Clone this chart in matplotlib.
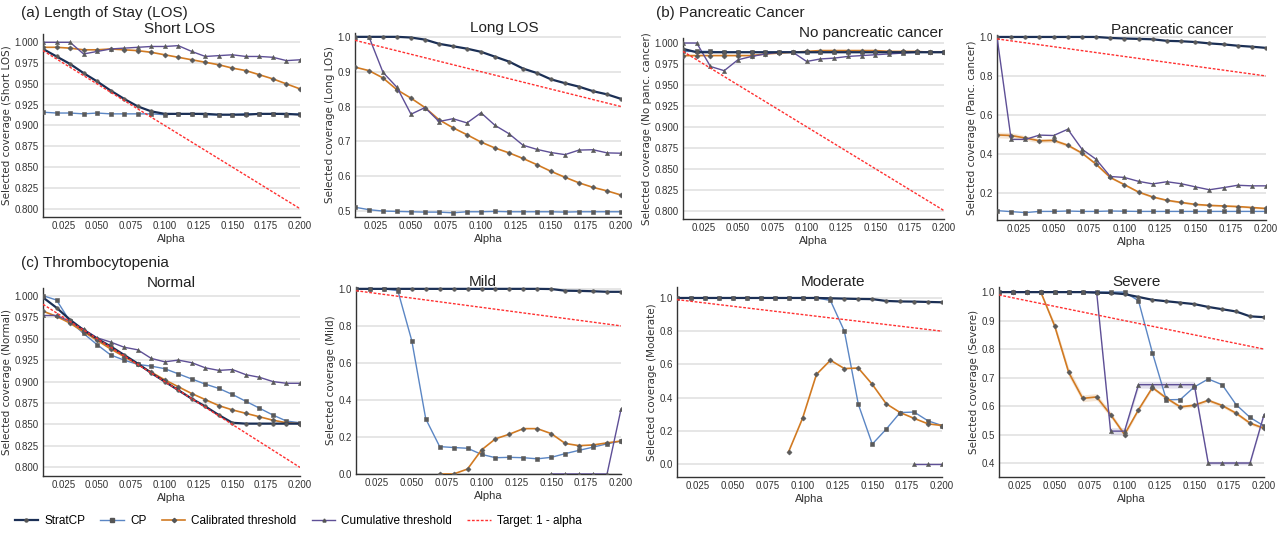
import numpy as np
import matplotlib
matplotlib.use("Agg")
import matplotlib.pyplot as plt
from matplotlib.lines import Line2D

nan = np.nan

alpha = [0.01, 0.02, 0.03, 0.04, 0.05, 0.06, 0.07, 0.08, 0.09, 0.10,
         0.11, 0.12, 0.13, 0.14, 0.15, 0.16, 0.17, 0.18, 0.19, 0.20]
target = [0.99, 0.98, 0.97, 0.96, 0.95, 0.94, 0.93, 0.92, 0.91, 0.90,
          0.89, 0.88, 0.87, 0.86, 0.85, 0.84, 0.83, 0.82, 0.81, 0.80]

methods = ["StratCP", "CP", "Calibrated threshold", "Cumulative threshold"]

# (a) Length of stay
short_strat = [0.992, 0.983, 0.974, 0.963, 0.953, 0.942, 0.932, 0.923, 0.917, 0.914,
               0.914, 0.914, 0.914, 0.913, 0.913, 0.913, 0.914, 0.914, 0.914, 0.913]
short_cp = [0.916, 0.915, 0.915, 0.914, 0.915, 0.914, 0.914, 0.914, 0.914, 0.913,
            0.914, 0.914, 0.913, 0.913, 0.913, 0.914, 0.914, 0.914, 0.913, 0.914]
short_cal = [0.994, 0.994, 0.993, 0.991, 0.991, 0.992, 0.991, 0.990, 0.988, 0.985,
             0.982, 0.979, 0.976, 0.973, 0.969, 0.966, 0.961, 0.956, 0.950, 0.944]
short_cum = [1.000, 1.000, 1.000, 0.986, 0.989, 0.992, 0.993, 0.994, 0.995, 0.995,
             0.996, 0.989, 0.983, 0.984, 0.985, 0.983, 0.983, 0.982, 0.978, 0.979]

long_strat = [1.000, 1.000, 1.000, 1.000, 0.998, 0.992, 0.980, 0.973, 0.966, 0.957,
              0.943, 0.929, 0.909, 0.896, 0.878, 0.867, 0.857, 0.844, 0.835, 0.822]
long_cp = [0.511, 0.504, 0.500, 0.499, 0.498, 0.497, 0.497, 0.495, 0.498, 0.498,
           0.499, 0.498, 0.498, 0.498, 0.498, 0.497, 0.498, 0.498, 0.498, 0.498]
long_cal = [0.913, 0.903, 0.882, 0.848, 0.824, 0.797, 0.762, 0.739, 0.719, 0.698,
            0.681, 0.667, 0.651, 0.633, 0.614, 0.597, 0.581, 0.568, 0.558, 0.546]
long_cum = [1.000, 1.000, 0.898, 0.855, 0.778, 0.797, 0.757, 0.765, 0.753, 0.782,
            0.746, 0.722, 0.689, 0.677, 0.668, 0.662, 0.675, 0.676, 0.667, 0.666]

# (b) Pancreatic cancer
nopanc_strat = [0.993, 0.989, 0.989, 0.989, 0.989, 0.989, 0.989, 0.989, 0.989, 0.989,
                0.989, 0.989, 0.989, 0.989, 0.989, 0.989, 0.989, 0.989, 0.989, 0.989]
nopanc_cp = [0.990, 0.990, 0.990, 0.989, 0.989, 0.989, 0.989, 0.989, 0.989, 0.989,
             0.989, 0.989, 0.989, 0.989, 0.989, 0.989, 0.989, 0.989, 0.989, 0.989]
nopanc_cal = [0.985, 0.985, 0.985, 0.985, 0.985, 0.985, 0.987, 0.988, 0.989, 0.990,
              0.991, 0.991, 0.991, 0.991, 0.991, 0.990, 0.990, 0.990, 0.989, 0.989]
nopanc_cum = [1.000, 1.000, 0.972, 0.967, 0.980, 0.984, 0.987, 0.989, 0.989, 0.978,
              0.981, 0.982, 0.984, 0.985, 0.986, 0.987, 0.988, 0.989, 0.989, 0.989]

panc_strat = [1.000, 1.000, 1.000, 1.000, 1.000, 1.000, 1.000, 1.000, 0.995, 0.992,
              0.990, 0.988, 0.980, 0.978, 0.974, 0.967, 0.962, 0.955, 0.950, 0.944]
panc_cp = [0.110, 0.105, 0.100, 0.106, 0.106, 0.108, 0.106, 0.106, 0.108, 0.107,
           0.106, 0.106, 0.106, 0.106, 0.106, 0.106, 0.106, 0.106, 0.106, 0.106]
panc_cal = [0.498, 0.495, 0.482, 0.468, 0.470, 0.445, 0.405, 0.348, 0.280, 0.243,
            0.205, 0.180, 0.163, 0.152, 0.142, 0.137, 0.134, 0.131, 0.126, 0.121]
panc_cum = [1.000, 0.475, 0.475, 0.497, 0.495, 0.527, 0.425, 0.373, 0.285, 0.280,
            0.260, 0.247, 0.258, 0.248, 0.232, 0.217, 0.228, 0.240, 0.237, 0.237]

# (c) Thrombocytopenia
normal_strat = [0.998, 0.986, 0.972, 0.960, 0.950, 0.941, 0.931, 0.921, 0.910, 0.900,
                0.890, 0.880, 0.871, 0.861, 0.852, 0.851, 0.851, 0.851, 0.851, 0.851]
normal_cp = [1.000, 0.995, 0.970, 0.956, 0.943, 0.931, 0.925, 0.920, 0.918, 0.915,
             0.909, 0.903, 0.897, 0.892, 0.885, 0.877, 0.869, 0.861, 0.854, 0.852]
normal_cal = [0.982, 0.976, 0.968, 0.958, 0.948, 0.938, 0.929, 0.920, 0.911, 0.902,
              0.894, 0.886, 0.879, 0.872, 0.867, 0.863, 0.859, 0.855, 0.852, 0.851]
normal_cum = [0.977, 0.977, 0.970, 0.961, 0.951, 0.946, 0.940, 0.937, 0.927, 0.923,
              0.925, 0.922, 0.916, 0.913, 0.914, 0.908, 0.905, 0.900, 0.898, 0.898]

mild_strat = [1.000, 1.000, 1.000, 1.000, 1.000, 1.000, 1.000, 1.000, 1.000, 1.000,
              1.000, 1.000, 1.000, 1.000, 0.999, 0.990, 0.989, 0.987, 0.984, 0.984]
mild_cp = [1.000, 1.000, 1.000, 0.990, 0.720, 0.298, 0.148, 0.143, 0.139, 0.106,
           0.088, 0.090, 0.088, 0.082, 0.090, 0.110, 0.128, 0.145, 0.163, 0.178]
mild_cal = [nan, nan, nan, nan, nan, nan, 0.000, 0.000, 0.027, 0.130,
            0.190, 0.215, 0.245, 0.245, 0.218, 0.165, 0.153, 0.157, 0.168, 0.178]
mild_cum = [nan, nan, nan, nan, nan, nan, nan, nan, nan, nan,
            nan, nan, nan, nan, 0.000, 0.000, 0.000, 0.000, 0.000, 0.350]

moderate_strat = [1.000, 1.000, 1.000, 1.000, 1.000, 1.000, 1.000, 1.000, 1.000, 1.000,
                  1.000, 0.998, 0.996, 0.994, 0.993, 0.982, 0.979, 0.978, 0.976, 0.974]
moderate_cp = [1.000, 1.000, 1.000, 1.000, 1.000, 1.000, 1.000, 1.000, 1.000, 1.000,
               1.000, 0.985, 0.800, 0.360, 0.120, 0.210, 0.310, 0.313, 0.260, 0.232]
moderate_cal = [nan, nan, nan, nan, nan, nan, nan, nan, 0.073, 0.275,
                0.540, 0.625, 0.575, 0.578, 0.480, 0.363, 0.310, 0.275, 0.242, 0.232]
moderate_cum = [nan, nan, nan, nan, nan, nan, nan, nan, nan, nan,
                nan, nan, nan, nan, nan, nan, nan, 0.000, 0.000, 0.000]

severe_strat = [1.000, 1.000, 1.000, 1.000, 1.000, 1.000, 1.000, 0.998, 0.997, 0.993,
                0.983, 0.973, 0.968, 0.963, 0.958, 0.948, 0.940, 0.932, 0.915, 0.912]
severe_cp = [1.000, 1.000, 1.000, 1.000, 1.000, 1.000, 1.000, 1.000, 1.000, 1.000,
             0.970, 0.787, 0.622, 0.623, 0.667, 0.695, 0.675, 0.605, 0.560, 0.530]
severe_cal = [1.000, 1.000, 1.000, 1.000, 0.880, 0.718, 0.627, 0.632, 0.570, 0.500,
              0.587, 0.665, 0.628, 0.597, 0.603, 0.620, 0.602, 0.575, 0.540, 0.522]
severe_cum = [1.000, 1.000, 1.000, 1.000, 1.000, 1.000, 1.000, 1.000, 0.512, 0.512,
              0.675, 0.675, 0.675, 0.675, 0.675, 0.400, 0.400, 0.400, 0.400, 0.570]

# half-widths of the visible shaded bands
panc_cal_band = [0.015, 0.015, 0.012, 0.010, 0.010, 0.008, 0.006, 0.006, 0.005, 0.005,
                 0.005, 0.005, 0.005, 0.005, 0.005, 0.005, 0.005, 0.005, 0.005, 0.005]
severe_cal_band = [0.0, 0.0, 0.0, 0.0, 0.012, 0.015, 0.012, 0.012, 0.010, 0.008,
                   0.006, 0.006, 0.006, 0.006, 0.006, 0.006, 0.006, 0.006, 0.006, 0.006]
severe_cum_band = [0.0, 0.0, 0.0, 0.0, 0.0, 0.0, 0.0, 0.0, 0.012, 0.012,
                   0.012, 0.012, 0.012, 0.012, 0.012, 0.006, 0.006, 0.006, 0.006, 0.006]

colors = ["#1b2f55", "#5b86c4", "#d17a22", "#5e4f96"]
markers = ["o", "s", "D", "^"]
msizes = [2.6, 2.8, 2.6, 3.0]
lws = [1.6, 1.0, 1.2, 1.0]

# title, ylabel, series, axes box (px: left, top, right, bottom), ylim, yticks,
# fmt, title x, bands
panels = [
    ("Short LOS", "Selected coverage (Short LOS)",
     [short_strat, short_cp, short_cal, short_cum], (43, 34, 300, 217),
     (0.790, 1.010), np.arange(0.8, 1.001, 0.025), "%.3f", 0.53, {}),
    ("Long LOS", "Selected coverage (Long LOS)",
     [long_strat, long_cp, long_cal, long_cum], (355, 33, 621, 217),
     (0.483, 1.011), np.arange(0.5, 1.001, 0.1), "%.1f", 0.56, {}),
    ("No pancreatic cancer", "Selected coverage (No panc. cancer)",
     [nopanc_strat, nopanc_cp, nopanc_cal, nopanc_cum], (683, 38, 944, 219),
     (0.790, 1.006), np.arange(0.8, 1.001, 0.025), "%.3f", 0.72, {}),
    ("Pancreatic cancer", "Selected coverage (Panc. cancer)",
     [panc_strat, panc_cp, panc_cal, panc_cum], (997, 35, 1266, 220),
     (0.062, 1.010), np.arange(0.2, 1.001, 0.2), "%.1f", 0.65, {2: panc_cal_band}),
    ("Normal", "Selected coverage (Normal)",
     [normal_strat, normal_cp, normal_cal, normal_cum], (43, 288, 300, 476),
     (0.790, 1.009), np.arange(0.8, 1.001, 0.025), "%.3f", 0.50, {}),
    ("Mild", "Selected coverage (Mild)",
     [mild_strat, mild_cp, mild_cal, mild_cum], (356, 287, 621, 474),
     (0.0, 1.010), np.arange(0.0, 1.001, 0.2), "%.1f", 0.48, {}),
    ("Moderate", "Selected coverage (Moderate)",
     [moderate_strat, moderate_cp, moderate_cal, moderate_cum], (677, 287, 942, 477),
     (-0.078, 1.066), np.arange(0.0, 1.001, 0.2), "%.1f", 0.59, {}),
    ("Severe", "Selected coverage (Severe)",
     [severe_strat, severe_cp, severe_cal, severe_cum], (999, 287, 1264, 477),
     (0.351, 1.018), np.arange(0.4, 1.001, 0.1), "%.1f", 0.52,
     {2: severe_cal_band, 3: severe_cum_band}),
]

W, H = 1281, 534
fig = plt.figure(figsize=(W / 100, H / 100), dpi=100)
narrow = dict(family=["Liberation Sans"])

a = np.array(alpha)
for title, ylab, series, box, ylim, yticks, fmt, tx, bands in panels:
    l, t, r, b = box
    ax = fig.add_axes([l / W, (H - b) / H, (r - l) / W, (b - t) / H])
    for i, y in enumerate(series):
        y = np.array(y, dtype=float)
        if i in bands:
            hw = np.array(bands[i])
            ax.fill_between(a, y - hw, y + hw, color=colors[i], alpha=0.18,
                            lw=0, zorder=2)
        ax.plot(a, y, color=colors[i], lw=lws[i], zorder=3 + (i == 0),
                marker=markers[i], markersize=msizes[i], markerfacecolor="#5a5a5a",
                markeredgecolor="#5a5a5a", markeredgewidth=0.4)
    ax.plot(a, target, color="#ff3030", lw=1.0, ls=(0, (2, 1.2)), zorder=5)
    ax.set_xlim(0.01, 0.20)
    ax.set_ylim(*ylim)
    ax.set_xticks(np.arange(0.025, 0.2001, 0.025))
    ax.set_xticklabels(["%.3f" % v for v in np.arange(0.025, 0.2001, 0.025)],
                       fontsize=7, **narrow)
    ax.set_yticks(yticks)
    ax.set_yticklabels([fmt % v for v in yticks], fontsize=7, **narrow)
    ax.tick_params(length=0, pad=3, colors="#333333")
    ax.grid(axis="y", color="#e4e4e4", lw=1.3, zorder=0)
    ax.set_axisbelow(True)
    for s in ["top", "right"]:
        ax.spines[s].set_visible(False)
    for s in ["left", "bottom"]:
        ax.spines[s].set_color("#333333")
        ax.spines[s].set_linewidth(1.0)
    ax.set_xlabel("Alpha", fontsize=8, labelpad=2, color="#333333", **narrow)
    ax.set_ylabel(ylab, fontsize=7.5, labelpad=2, color="#333333")
    fig.text((l + tx * (r - l)) / W, (H - t + 5) / H, title, ha="center",
             va="center", fontsize=11, family="Liberation Sans", color="#222222")

fig.text(21 / W, (H - 13) / H, "(a) Length of Stay (LOS)", fontsize=11,
         family="Liberation Sans", va="center", color="#222222")
fig.text(656 / W, (H - 13) / H, "(b) Pancreatic Cancer", fontsize=11,
         family="Liberation Sans", va="center", color="#222222")
fig.text(21 / W, (H - 263) / H, "(c) Thrombocytopenia", fontsize=11,
         family="Liberation Sans", va="center", color="#222222")

handles = [Line2D([], [], color=colors[i], lw=lws[i], marker=markers[i],
                  markersize=2.2, markerfacecolor="#555555",
                  markeredgecolor="#555555") for i in range(4)]
handles.append(Line2D([], [], color="#ff3030", lw=1.0, ls=(0, (2, 1.2))))
leg = fig.legend(handles, methods + ["Target: 1 - alpha"], loc="center left",
                 bbox_to_anchor=(4 / W, (H - 521) / H), ncol=5, frameon=False,
                 handlelength=2.0, handletextpad=0.5, columnspacing=1.3,
                 prop=dict(size=8.5, **narrow))

fig.savefig("out.png", dpi=100)
